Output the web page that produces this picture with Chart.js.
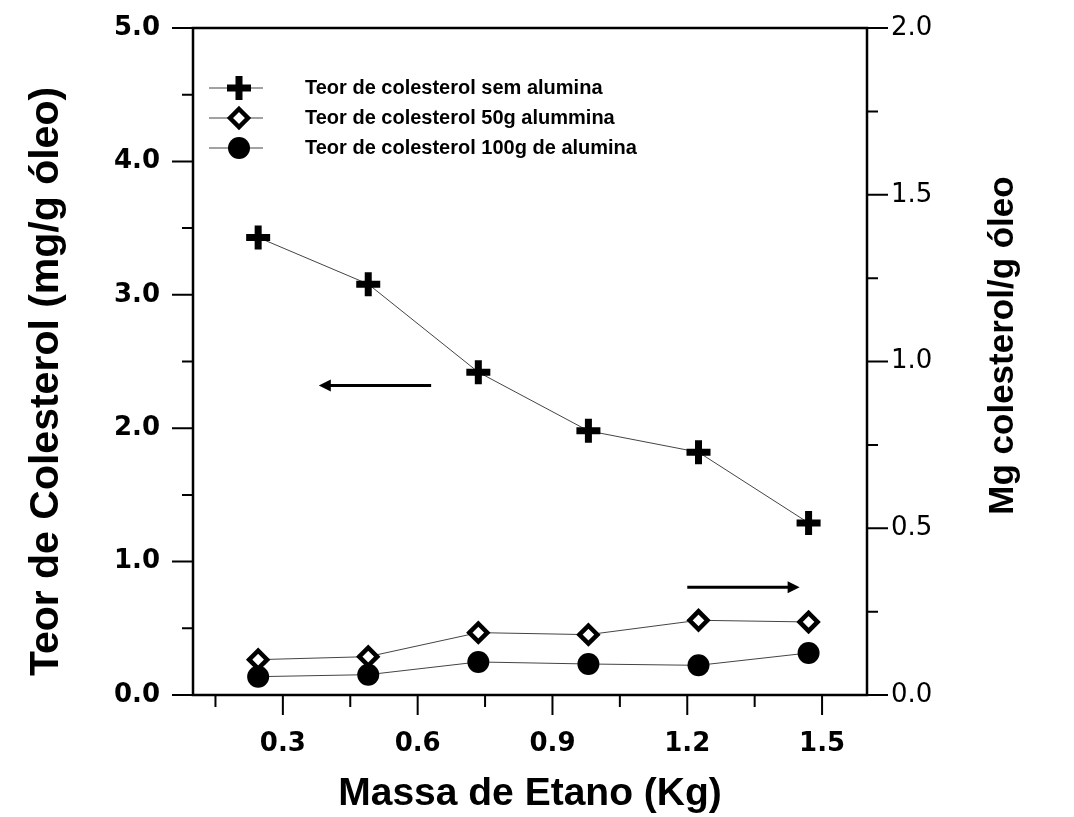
<!DOCTYPE html>
<html lang="pt">
<head>
  <meta charset="UTF-8">
  <title>Teor de Colesterol x Massa de Etano</title>
  <script src="https://cdn.jsdelivr.net/npm/chart.js"></script>
  <style>
    body { margin: 0; background: #fff; }
    #wrap { width: 1074px; height: 817px; }
  </style>
</head>
<body>
<div id="wrap">
  <canvas id="colesterolChart" width="1074" height="817"></canvas>
</div>

<script>
  // valores
  const massaEtano = [0.245, 0.49, 0.735, 0.98, 1.225, 1.47];
  const semAlumina = [3.43, 3.08, 2.42, 1.98, 1.82, 1.29];
  const alumina50g = [0.106, 0.115, 0.187, 0.181, 0.224, 0.219];
  const alumina100g = [0.055, 0.061, 0.099, 0.093, 0.089, 0.126];

  const serieLabels = [
    'Teor de colesterol sem alumina',
    'Teor de colesterol 50g alummina',
    'Teor de colesterol 100g de alumina'
  ];

  const xTicks = [0.3, 0.6, 0.9, 1.2, 1.5];
  const xMinor = [0.15, 0.45, 0.75, 1.05, 1.35];
  const yTicks = [0, 1, 2, 3, 4, 5];
  const yMinor = [0.5, 1.5, 2.5, 3.5, 4.5];
  const y2Ticks = [0, 0.5, 1, 1.5, 2];
  const y2Minor = [0.25, 0.75, 1.25, 1.75];

  // setas indicando o eixo de cada serie
  const setaEsq = { de: 0.63, ate: 0.38, y: 2.32, eixo: 'y' };
  const setaDir = { de: 1.2, ate: 1.45, y: 0.323, eixo: 'y2' };

  const FONT = '"Liberation Sans", Arial, sans-serif';
  const TICK_FONT = '"DejaVu Sans", sans-serif';
  Chart.defaults.font.family = FONT;
  Chart.defaults.color = '#000';

  function drawMarker(ctx, tipo, x, y) {
    ctx.save();
    ctx.strokeStyle = '#000';
    ctx.fillStyle = '#000';
    if (tipo === 'cross') {
      ctx.lineWidth = 7;
      ctx.beginPath();
      ctx.moveTo(x - 12, y); ctx.lineTo(x + 12, y);
      ctx.moveTo(x, y - 12); ctx.lineTo(x, y + 12);
      ctx.stroke();
    } else if (tipo === 'rectRot') {
      ctx.lineWidth = 4.5;
      ctx.fillStyle = '#fff';
      ctx.beginPath();
      ctx.moveTo(x, y - 9); ctx.lineTo(x + 9, y); ctx.lineTo(x, y + 9); ctx.lineTo(x - 9, y);
      ctx.closePath();
      ctx.fill();
      ctx.stroke();
    } else {
      ctx.beginPath();
      ctx.arc(x, y, 11, 0, Math.PI * 2);
      ctx.fill();
    }
    ctx.restore();
  }

  function drawArrow(ctx, x1, x2, y) {
    const dir = x2 > x1 ? 1 : -1;
    ctx.save();
    ctx.strokeStyle = '#000';
    ctx.fillStyle = '#000';
    ctx.lineWidth = 3;
    ctx.beginPath();
    ctx.moveTo(x1, y);
    ctx.lineTo(x2 - dir * 8, y);
    ctx.stroke();
    ctx.beginPath();
    ctx.moveTo(x2, y);
    ctx.lineTo(x2 - dir * 12, y - 6);
    ctx.lineTo(x2 - dir * 12, y + 6);
    ctx.closePath();
    ctx.fill();
    ctx.restore();
  }

  function drawVerticalTitle(ctx, text, size, x, y) {
    ctx.save();
    ctx.font = 'bold ' + size + 'px ' + FONT;
    ctx.textAlign = 'center';
    ctx.textBaseline = 'middle';
    ctx.fillStyle = '#000';
    ctx.translate(x, y);
    ctx.rotate(-Math.PI / 2);
    ctx.fillText(text, 0, 0);
    ctx.restore();
  }

  const moldura = {
    id: 'moldura',
    afterDraw(chart) {
      const ctx = chart.ctx;
      const { left, right, top, bottom } = chart.chartArea;
      const sx = chart.scales.x, sy = chart.scales.y, sy2 = chart.scales.y2;
      const meio = (top + bottom) / 2;

      ctx.save();
      ctx.strokeStyle = '#000';
      ctx.lineWidth = 2.5;
      ctx.strokeRect(left, top, right - left, bottom - top);

      ctx.lineWidth = 2;
      ctx.beginPath();
      xTicks.forEach(v => { const p = sx.getPixelForValue(v); ctx.moveTo(p, bottom); ctx.lineTo(p, bottom + 20); });
      xMinor.forEach(v => { const p = sx.getPixelForValue(v); ctx.moveTo(p, bottom); ctx.lineTo(p, bottom + 12); });
      yTicks.forEach(v => { const p = sy.getPixelForValue(v); ctx.moveTo(left, p); ctx.lineTo(left - 21, p); });
      yMinor.forEach(v => { const p = sy.getPixelForValue(v); ctx.moveTo(left, p); ctx.lineTo(left - 11, p); });
      y2Ticks.forEach(v => { const p = sy2.getPixelForValue(v); ctx.moveTo(right, p); ctx.lineTo(right + 21, p); });
      y2Minor.forEach(v => { const p = sy2.getPixelForValue(v); ctx.moveTo(right, p); ctx.lineTo(right + 11, p); });
      ctx.stroke();
      ctx.restore();

      // titulos verticais, lidos de baixo para cima
      drawVerticalTitle(ctx, 'Teor de Colesterol (mg/g óleo)', 41, 47, meio + 20);
      drawVerticalTitle(ctx, 'Mg colesterol/g óleo', 35, 1003, meio - 16);

      // setas
      drawArrow(ctx, sx.getPixelForValue(setaEsq.de), sx.getPixelForValue(setaEsq.ate),
        chart.scales[setaEsq.eixo].getPixelForValue(setaEsq.y));
      drawArrow(ctx, sx.getPixelForValue(setaDir.de), sx.getPixelForValue(setaDir.ate),
        chart.scales[setaDir.eixo].getPixelForValue(setaDir.y));

      // legenda
      ctx.save();
      ctx.font = 'bold 20px ' + FONT;
      ctx.textBaseline = 'middle';
      ctx.fillStyle = '#000';
      chart.data.datasets.forEach((ds, i) => {
        const y = top + 60 + i * 30;
        ctx.strokeStyle = '#444';
        ctx.lineWidth = 1;
        ctx.beginPath();
        ctx.moveTo(left + 16, y);
        ctx.lineTo(left + 70, y);
        ctx.stroke();
        drawMarker(ctx, ds.pointStyle, left + 46, y);
        ctx.fillText(ds.label, left + 112, y);
      });
      ctx.restore();
    }
  };

  const ctx = document.getElementById('colesterolChart').getContext('2d');

  const chart = new Chart(ctx, {
    type: 'line',
    data: {
      datasets: [
        {
          label: serieLabels[0],
          data: massaEtano.map((x, i) => ({ x: x, y: semAlumina[i] })),
          yAxisID: 'y',
          borderColor: '#444',
          borderWidth: 1,
          pointStyle: 'cross',
          pointRadius: 12,
          pointBorderWidth: 7,
          pointBorderColor: '#000',
          pointBackgroundColor: '#000',
          fill: false
        },
        {
          label: serieLabels[1],
          data: massaEtano.map((x, i) => ({ x: x, y: alumina50g[i] })),
          yAxisID: 'y2',
          borderColor: '#444',
          borderWidth: 1,
          pointStyle: 'rectRot',
          pointRadius: 9,
          pointBorderWidth: 4.5,
          pointBorderColor: '#000',
          pointBackgroundColor: '#fff',
          fill: false
        },
        {
          label: serieLabels[2],
          data: massaEtano.map((x, i) => ({ x: x, y: alumina100g[i] })),
          yAxisID: 'y2',
          borderColor: '#444',
          borderWidth: 1,
          pointStyle: 'circle',
          pointRadius: 11,
          pointBorderWidth: 0,
          pointBackgroundColor: '#000',
          fill: false
        }
      ]
    },
    options: {
      responsive: false,
      animation: false,
      clip: false,
      layout: { padding: { top: 28, left: 0, right: 0, bottom: 0 } },
      plugins: {
        legend: { display: false },
        tooltip: { enabled: false }
      },
      scales: {
        x: {
          type: 'linear',
          min: 0.1,
          max: 1.6,
          afterBuildTicks: s => { s.ticks = xTicks.map(v => ({ value: v })); },
          afterFit: s => { s.height = 122; },
          grid: { display: false, tickLength: 20 },
          border: { display: false },
          ticks: {
            font: { family: TICK_FONT, size: 26, weight: 'bold' },
            color: '#000',
            padding: 14,
            maxRotation: 0,
            callback: v => v.toFixed(1)
          },
          title: {
            display: true,
            text: 'Massa de Etano (Kg)',
            font: { size: 39, weight: 'bold', lineHeight: 1 },
            color: '#000',
            padding: { top: 0, bottom: 3 }
          }
        },
        y: {
          type: 'linear',
          position: 'left',
          min: 0,
          max: 5,
          afterBuildTicks: s => { s.ticks = yTicks.map(v => ({ value: v })); },
          afterFit: s => { s.width = 193; },
          grid: { display: false, tickLength: 21 },
          border: { display: false },
          ticks: {
            font: { family: TICK_FONT, size: 26, weight: 'bold' },
            color: '#000',
            padding: 12,
            callback: v => v.toFixed(1)
          }
        },
        y2: {
          type: 'linear',
          position: 'right',
          min: 0,
          max: 2,
          afterBuildTicks: s => { s.ticks = y2Ticks.map(v => ({ value: v })); },
          afterFit: s => { s.width = 207; },
          grid: { display: false, tickLength: 21 },
          border: { display: false },
          ticks: {
            font: { family: TICK_FONT, size: 26 },
            color: '#000',
            padding: 3,
            callback: v => v.toFixed(1)
          }
        }
      }
    },
    plugins: [moldura]
  });
</script>
</body>
</html>
